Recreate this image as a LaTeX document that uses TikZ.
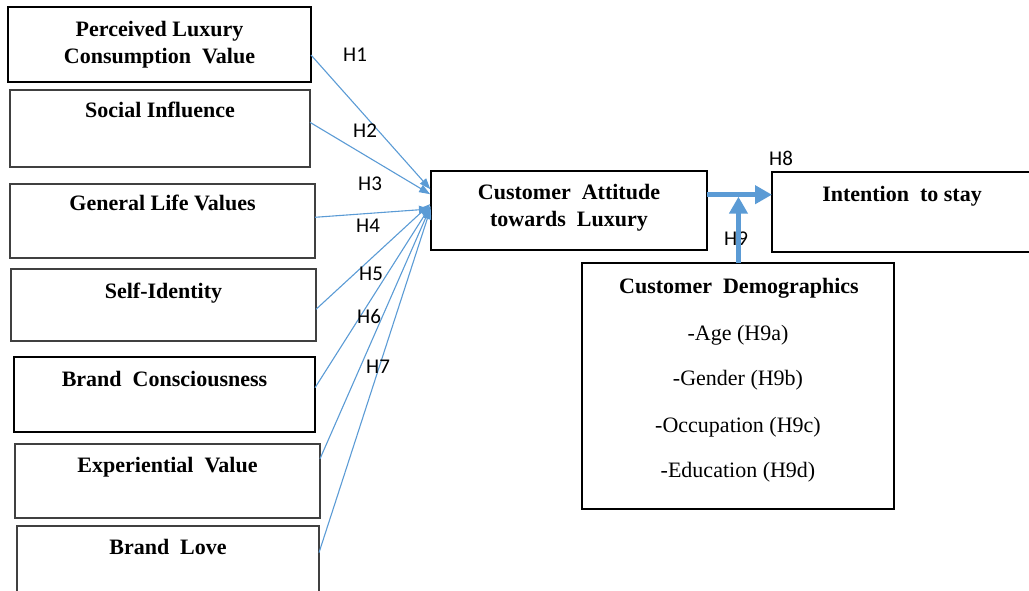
\documentclass[tikz,border=0pt]{standalone}
\usepackage{fontspec}
\setmainfont{Liberation Serif}
\newfontfamily\hfont{Carlito}
\usetikzlibrary{arrows.meta,calc}
\definecolor{lineblue}{HTML}{5B9BD5}
\begin{document}
\begin{tikzpicture}[x=1pt,y=-1pt,
  thinbox/.style={draw=black!75, line width=1.2pt, inner sep=0pt, outer sep=0pt, fill=none},
  thickbox/.style={draw=black, line width=2.6pt, inner sep=0pt, outer sep=0pt, fill=none},
  ttl/.style={font=\fontsize{22}{27}\selectfont\bfseries, anchor=base, inner sep=0pt},
  itm/.style={font=\fontsize{22}{27}\selectfont, anchor=base, inner sep=0pt},
  hlab/.style={font=\hfont\fontsize{21}{24}\selectfont, anchor=base west, inner sep=0pt},
  thinarrow/.style={draw=lineblue, line width=1.1pt, -{Triangle[length=11pt,width=8pt]}, shorten >=1pt},
  thickarrow/.style={draw=lineblue, line width=5pt, -{Triangle[length=17pt,width=18pt]}}
]
\useasboundingbox (0,0) rectangle (1029,591);
\clip (0,0) rectangle (1029,591);

% left boxes
\node[thickbox, minimum width=303pt, minimum height=75pt] (b1) at (159.5,44.5) {};
\node[thinbox,  minimum width=300pt, minimum height=77pt] (b2) at (160,128.5) {};
\node[thinbox,  minimum width=305pt, minimum height=74pt] (b3) at (162.5,221) {};
\node[thinbox,  minimum width=305pt, minimum height=72pt] (b4) at (163.5,305) {};
\node[thickbox, minimum width=301pt, minimum height=75pt] (b5) at (164.5,394.5) {};
\node[thinbox,  minimum width=305pt, minimum height=74pt] (b6) at (167.5,481) {};
\node[thinbox,  minimum width=302pt, minimum height=74pt] (b7) at (168,563) {};

\node[ttl] (t1a) at (159.5,37) {Perceived Luxury};
\node[ttl] (t1b) at (159.5,64) {Consumption\ \ Value};
\node[ttl] (t2) at (160,118) {Social Influence};
\node[ttl] (t3) at (162.5,211) {General Life Values};
\node[ttl] (t4) at (163.5,298) {Self-Identity};
\node[ttl] (t5) at (164.5,386) {Brand\ \ Consciousness};
\node[ttl] (t6) at (167.5,472) {Experiential\ \ Value};
\node[ttl] (t7) at (168,554) {Brand\ \ Love};

% central and right boxes
\node[thickbox, minimum width=276pt, minimum height=79pt] (att) at (569,210.5) {};
\node[ttl] (atta) at (569,200) {Customer\ \ Attitude};
\node[ttl] (attb) at (569,226) {towards\ \ Luxury};

\node[thickbox, minimum width=280pt, minimum height=80pt] (int) at (912,212) {};
\node[ttl] (intt) at (902,201) {Intention\ \ to stay};

\node[thickbox, minimum width=312pt, minimum height=246pt] (dem) at (738,386) {};
\node[ttl] (demt) at (739,293) {Customer\ \ Demographics};
\node[itm] (d1) at (738,340) {-Age (H9a)};
\node[itm] (d2) at (738,385) {-Gender (H9b)};
\node[itm] (d3) at (738,432) {-Occupation (H9c)};
\node[itm] (d4) at (738,477) {-Education (H9d)};

% thin arrows into attitude
\draw[thinarrow] ($(b1.north east)!0.64!(b1.south east)$) -- ($(att.north west)!0.24!(att.south west)$);
\draw[thinarrow] ($(b2.north east)!0.42!(b2.south east)$) -- ($(att.north west)!0.30!(att.south west)$);
\draw[thinarrow] ($(b3.north east)!0.45!(b3.south east)$) -- ($(att.north west)!0.48!(att.south west)$);
\draw[thinarrow] ($(b4.north east)!0.56!(b4.south east)$) -- ($(att.north west)!0.41!(att.south west)$);
\draw[thinarrow] ($(b5.north east)!0.41!(b5.south east)$) -- ($(att.north west)!0.43!(att.south west)$);
\draw[thinarrow] ($(b6.north east)!0.20!(b6.south east)$) -- ($(att.north west)!0.44!(att.south west)$);
\draw[thinarrow] ($(b7.north east)!0.36!(b7.south east)$) -- ($(att.north west)!0.46!(att.south west)$);

% H labels
\node[hlab] (h1) at (343,62) {H1};
\node[hlab] (h2) at (353,138) {H2};
\node[hlab] (h3) at (358,190) {H3};
\node[hlab] (h4) at (356,233) {H4};
\node[hlab] (h5) at (359,280) {H5};
\node[hlab] (h6) at (357,323) {H6};
\node[hlab] (h7) at (366,373) {H7};
\node[hlab] (h8) at (769,166) {H8};
\node[hlab] (h9) at (724,245) {H9};

% H8 and H9 arrows
\coordinate (h8s) at ($(att.north east)!0.30!(att.south east)$);
\coordinate (h8e) at (int.west |- h8s);
\draw[thickarrow] (h8s) -- (h8e);
\coordinate (jn) at ($(h8s)!0.484!(h8e)$);
\draw[thickarrow] (dem.north -| jn) -- ($(jn)+(0,2)$);
\end{tikzpicture}
\end{document}
